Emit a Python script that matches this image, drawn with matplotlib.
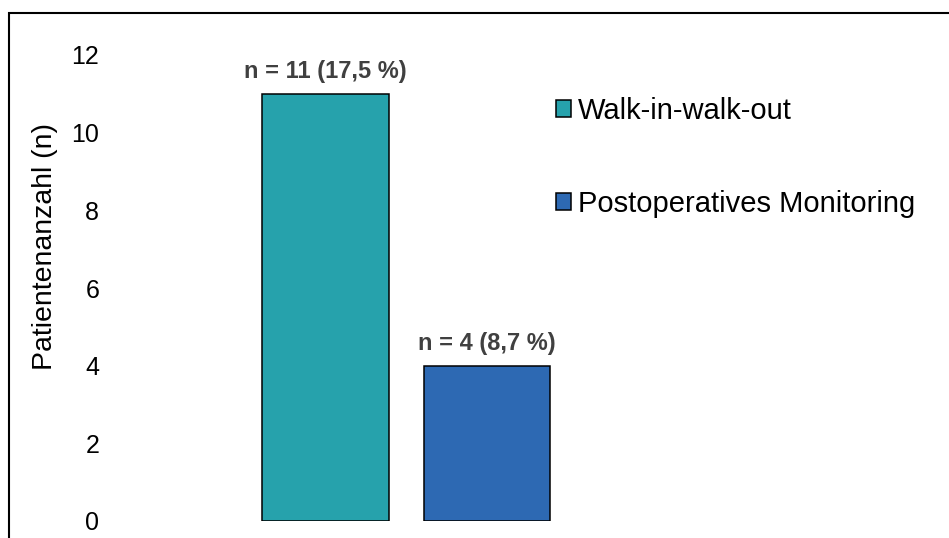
import matplotlib.pyplot as plt
from matplotlib.patches import Rectangle, Patch

plt.rcParams['font.family'] = ['Liberation Sans', 'DejaVu Sans']

gruppen = ['Walk-in-walk-out', 'Postoperatives Monitoring']
anzahl = [11, 4]
prozent = ['17,5', '8,7']
farben = ['#26A2AC', '#2D69B3']
y_ticks = [0, 2, 4, 6, 8, 10, 12]

W, H = 949, 538
fig = plt.figure(figsize=(W / 100, H / 100), dpi=100)
ax = fig.add_axes([120 / W, 17 / H, 600 / W, (521 - 55) / H])

pos = list(range(len(gruppen)))
bars = ax.bar(pos, anzahl, width=0.786, color=farben, edgecolor='black', linewidth=1.1)

for b, n, p in zip(bars, anzahl, prozent):
    ax.annotate(f'n = {n} ({p} %)', (b.get_x() + b.get_width() / 2, n),
                xytext=(0, 16), textcoords='offset points', ha='center', va='center',
                fontsize=17, fontweight='bold', color='#404040')

ax.set_xlim(-1.2724, 2.4427)
ax.set_ylim(0, 12)
ax.set_yticks(y_ticks)
ax.tick_params(axis='y', length=0, pad=15, labelsize=18)
ax.set_xticks([])
for s in ax.spines.values():
    s.set_visible(False)

fig.text(45 / W, 1 - 246 / H, 'Patientenanzahl (n)', rotation=90,
         ha='center', va='center', fontsize=20.5)

handles = [Patch(facecolor=c, edgecolor='black', linewidth=1.1) for c in farben]
fig.legend(handles, gruppen, loc='upper left', bbox_to_anchor=(556 / W, 1 - 97 / H),
           frameon=False, fontsize=21, borderpad=0, borderaxespad=0,
           handlelength=0.52, handleheight=0.52, handletextpad=0.22, labelspacing=2.23)

# Rahmen um die Grafik
fig.patches.append(Rectangle((8.5 / W, -0.5), 2, 1 - 13 / H + 0.5, transform=fig.transFigure,
                             fill=False, edgecolor='black', linewidth=1.5, clip_on=False))

fig.savefig('out.png', dpi=100)
